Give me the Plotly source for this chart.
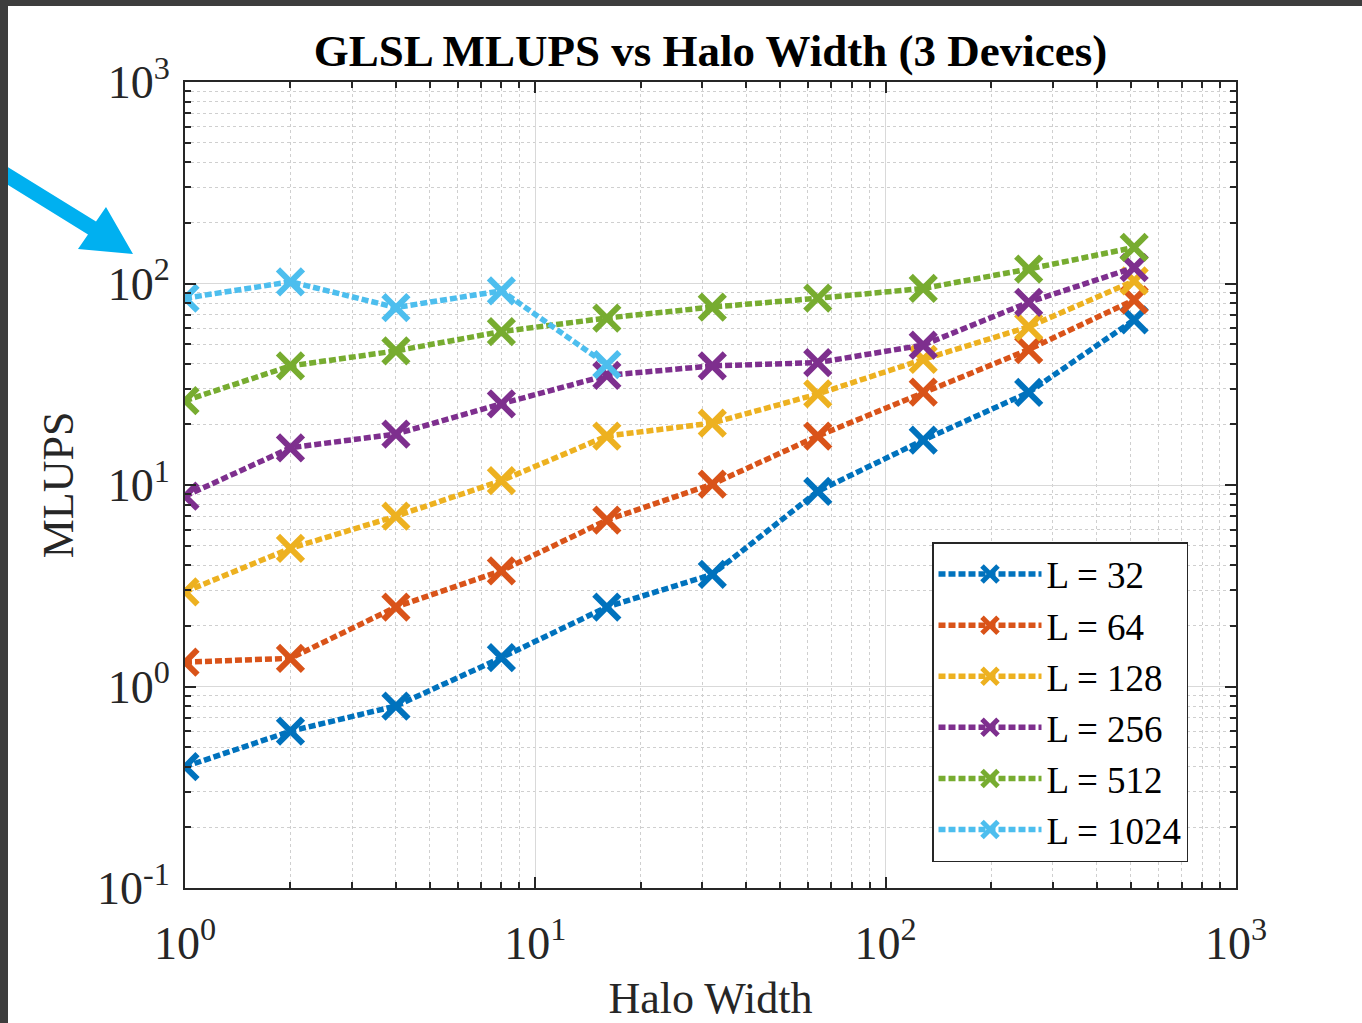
import plotly.graph_objects as go

# Halo width sweep and measured throughput (MLUPS) per lattice size L
halo_width = [1, 2, 4, 8, 16, 32, 64, 128, 256, 512]
mlups_L32 = [0.40, 0.60, 0.80, 1.39, 2.48, 3.6, 9.3, 16.7, 28.8, 66]
mlups_L64 = [1.32, 1.38, 2.48, 3.75, 6.7, 10.1, 17.5, 28.9, 47, 83]
mlups_L128 = [2.95, 4.85, 7.0, 10.5, 17.5, 20.3, 28.3, 42, 61, 103]
mlups_L256 = [8.8, 15.3, 17.9, 25.3, 35, 39, 40.5, 49.5, 80.7, 120]
mlups_L512 = [26.2, 39, 46.3, 57.7, 67.4, 76.4, 84.5, 94.5, 118, 151]
mlups_L1024 = [84.5, 102, 76, 92, 39.6]  # only the first five halo widths

series_labels = ["L = 32", "L = 64", "L = 128", "L = 256", "L = 512", "L = 1024"]
series_values = [mlups_L32, mlups_L64, mlups_L128, mlups_L256, mlups_L512, mlups_L1024]
series_colors = ["#0072BD", "#D95319", "#EDB120", "#7E2F8E", "#77AC30", "#4DBEEE"]

x_tick_vals = [1, 10, 100, 1000]
x_tick_text = ["10<sup>0</sup>", "10<sup>1</sup>", "10<sup>2</sup>", "10<sup>3</sup>"]
y_tick_vals = [0.1, 1, 10, 100, 1000]
y_tick_text = ["10<sup>-1</sup>", "10<sup>0</sup>", "10<sup>1</sup>", "10<sup>2</sup>", "10<sup>3</sup>"]

FONT = "Liberation Serif"
W, H = 1362, 1023
ML, MR, MT, MB = 185, 126, 82, 135
PW, PH = W - ML - MR, H - MT - MB

fig = go.Figure()
for label, vals, color in zip(series_labels, series_values, series_colors):
    fig.add_trace(go.Scatter(
        x=halo_width[:len(vals)], y=vals, name=label, mode="lines+markers",
        line=dict(color=color, width=5.5, dash="7px,3px"),
        marker=dict(symbol="x-thin", size=25, color=color,
                    line=dict(color=color, width=6)),
    ))


def minor_vals(lo, hi):
    out = []
    for e in range(lo, hi):
        for k in range(2, 10):
            out.append(k * 10 ** e)
    return out


axis_common = dict(
    type="log", showline=True, linecolor="#262626", linewidth=2, mirror="allticks",
    ticks="inside", ticklen=11, tickwidth=1.5, tickcolor="#262626",
    showgrid=True, gridcolor="#d9d9d9", gridwidth=1, zeroline=False,
    tickfont=dict(family=FONT, size=46, color="#262626"),
    tickmode="array",
)

fig.update_xaxes(
    **axis_common, range=[0, 3], tickvals=x_tick_vals, ticktext=x_tick_text,
    ticklabelstandoff=14,
    minor=dict(tickvals=minor_vals(0, 3), ticks="inside", ticklen=6, tickcolor="#262626",
               showgrid=True, gridcolor="#cfcfcf", griddash="dot", gridwidth=1),
    title=dict(text="Halo Width", font=dict(family=FONT, size=44, color="#262626"), standoff=18),
)
fig.update_yaxes(
    **axis_common, range=[-1, 3], tickvals=y_tick_vals, ticktext=y_tick_text,
    ticklabelstandoff=4,
    minor=dict(tickvals=minor_vals(-1, 3), ticks="inside", ticklen=6, tickcolor="#262626",
               showgrid=True, gridcolor="#cfcfcf", griddash="dot", gridwidth=1),
    title=dict(text="MLUPS", font=dict(family=FONT, size=44, color="#262626"), standoff=10),
)


def px_x(p):
    return (p - ML) / PW


def px_y(p):
    return (H - MB - p) / PH


def path_from_px(points):
    parts = []
    for i, (a, b) in enumerate(points):
        parts.append(("M" if i == 0 else "L") + f"{px_x(a):.5f},{px_y(b):.5f}")
    return " ".join(parts) + " Z"


# Callout arrow at the left edge pointing at the 10^2 label
arrow_pts = [(-6, 158.6), (96, 221.6), (106, 207), (133, 254), (78, 249), (88, 234.4), (-14, 171.4)]
shapes = [
    dict(type="path", xref="paper", yref="paper", path=path_from_px(arrow_pts),
         fillcolor="#00B0F0", line=dict(width=0), layer="above"),
    # dark window frame along top and left edges
    dict(type="rect", xref="paper", yref="paper", x0=px_x(-2), x1=px_x(W + 2),
         y0=px_y(6), y1=px_y(-2), fillcolor="#3d3d3d", line=dict(width=0), layer="above"),
    dict(type="rect", xref="paper", yref="paper", x0=px_x(-2), x1=px_x(8),
         y0=px_y(H + 2), y1=px_y(-2), fillcolor="#3d3d3d", line=dict(width=0), layer="above"),
]

fig.update_layout(
    width=W, height=H, margin=dict(l=ML, r=MR, t=MT, b=MB, autoexpand=False),
    paper_bgcolor="white", plot_bgcolor="white",
    font=dict(family=FONT, color="#262626"),
    title=dict(text="<b>GLSL MLUPS vs Halo Width (3 Devices)</b>",
               font=dict(family=FONT, size=45, color="#000000"),
               x=(ML + PW / 2) / W, xanchor="center", xref="container",
               y=1 - 50 / H, yanchor="middle", yref="container"),
    legend=dict(x=px_x(932), y=px_y(542), xanchor="left", yanchor="top",
                bgcolor="white", bordercolor="#262626", borderwidth=1.5,
                font=dict(family=FONT, size=37, color="#000000"),
                itemwidth=103, entrywidth=148, entrywidthmode="pixels", tracegroupgap=0),
    shapes=shapes,
    showlegend=True,
)

fig.write_html("out.html")
